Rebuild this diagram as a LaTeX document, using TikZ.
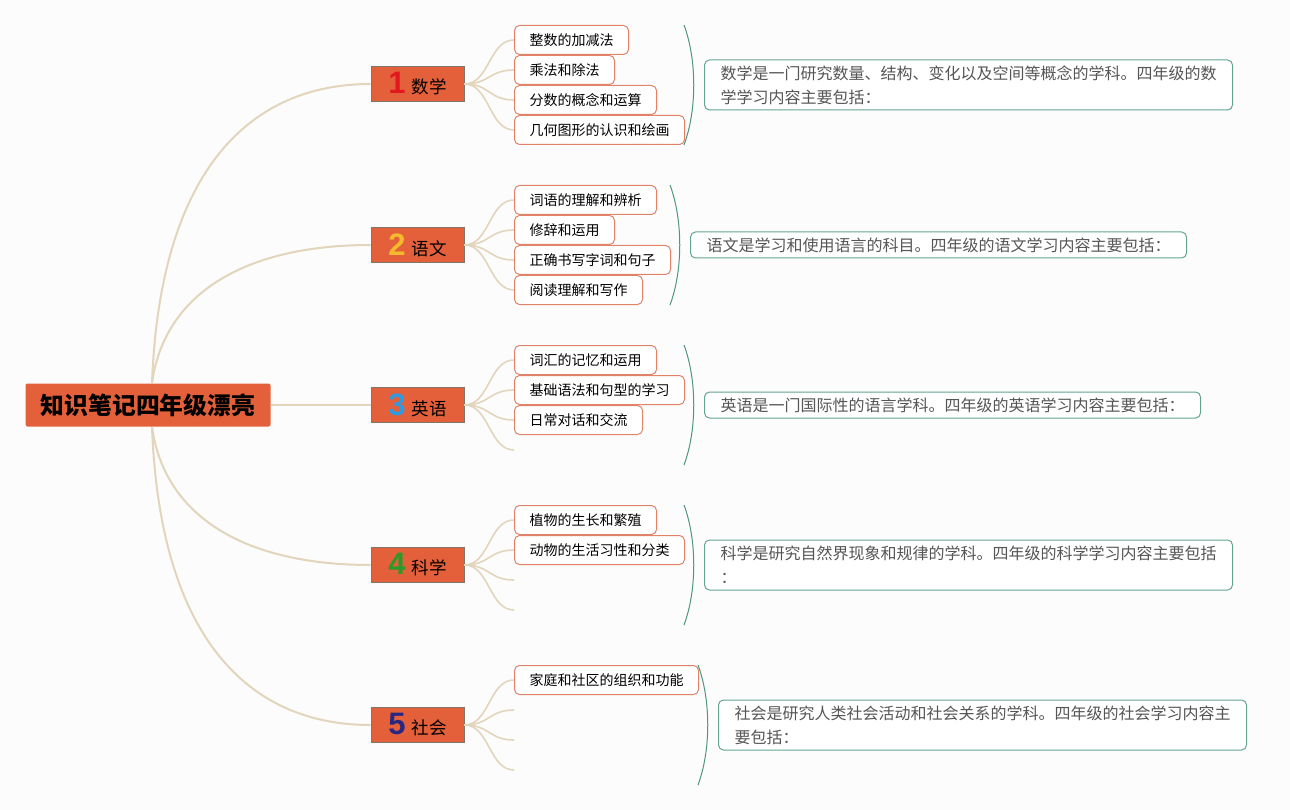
\documentclass[tikz,border=0pt]{standalone}
\usepackage{fontspec}
\usetikzlibrary{calc}
\setmainfont{Noto Sans CJK SC}
\newfontfamily\numfont{Liberation Sans}
\definecolor{bgc}{RGB}{252,252,252}
\definecolor{orangec}{RGB}{228,96,58}
\definecolor{bordc}{RGB}{125,120,105}
\definecolor{linkc}{RGB}{226,213,188}
\definecolor{leafc}{RGB}{226,130,105}
\definecolor{bracec}{RGB}{80,150,125}
\definecolor{notec}{RGB}{100,165,145}
\definecolor{notetext}{RGB}{85,85,85}
\definecolor{n1}{RGB}{225,25,30}
\definecolor{n2}{RGB}{245,185,45}
\definecolor{n3}{RGB}{45,155,225}
\definecolor{n4}{RGB}{40,155,40}
\definecolor{n5}{RGB}{40,40,130}
\begin{document}
\begin{tikzpicture}[x=1pt,y=-1pt,
  rootbox/.style={fill=orangec,rounded corners=2pt,minimum width=245pt,minimum height=43pt,inner sep=0pt,font=\fontsize{23.8}{26}\selectfont\bfseries},
  branchbox/.style={fill=orangec,draw=bordc,line width=1pt,minimum width=93pt,minimum height=35pt,inner sep=0pt,font=\fontsize{17.5}{20}\selectfont},
  leafbox/.style={draw=leafc,fill=white,rounded corners=5pt,line width=1pt,minimum height=29pt,inner xsep=15pt,inner ysep=0pt,anchor=west,font=\fontsize{14}{16}\selectfont},
  notebox/.style={draw=notec,fill=white,rounded corners=5pt,line width=1pt,inner xsep=16pt,inner ysep=0pt,anchor=west,align=left,text=notetext,font=\fontsize{16}{24}\selectfont},
  mainlink/.style={draw=linkc,line width=2pt},
  leaflink/.style={draw=linkc,line width=1.6pt},
  bracearc/.style={draw=bracec,line width=1pt}
]
\fill[bgc] (0,0) rectangle (1290,810);
\useasboundingbox (0,0) rectangle (1290,810);

% root
\node[rootbox] (root) at (148,405) {知识笔记四年级漂亮};
\coordinate (rtop) at (152,383);
\coordinate (rbot) at (152,427);

% branches
\newcommand{\num}[2]{{\numfont\bfseries\fontsize{31}{31}\selectfont\color{#1}#2}\hspace{6pt}}
\node[branchbox] (b1) at (417.5,84) {\num{n1}{1}数学};
\node[branchbox] (b2) at (417.5,245) {\num{n2}{2}语文};
\node[branchbox] (b3) at (417.5,405) {\num{n3}{3}英语};
\node[branchbox] (b4) at (417.5,565) {\num{n4}{4}科学};
\node[branchbox] (b5) at (417.5,725) {\num{n5}{5}社会};

% root links
\draw[mainlink] (rtop) .. controls (160,170) and (250,84) .. (b1.west);
\draw[mainlink] (rtop) .. controls (165,290) and (250,245) .. (b2.west);
\draw[mainlink] (root.east) -- (b3.west);
\draw[mainlink] (rbot) .. controls (165,520) and (250,565) .. (b4.west);
\draw[mainlink] (rbot) .. controls (160,640) and (250,725) .. (b5.west);

% leaves branch 1
\node[leafbox] (l11) at (514,40) {整数的加减法};
\node[leafbox] (l12) at (514,70) {乘法和除法};
\node[leafbox] (l13) at (514,100) {分数的概念和运算};
\node[leafbox] (l14) at (514,130) {几何图形的认识和绘画};
% branch 2
\node[leafbox] (l21) at (514,200) {词语的理解和辨析};
\node[leafbox] (l22) at (514,230) {修辞和运用};
\node[leafbox] (l23) at (514,260) {正确书写字词和句子};
\node[leafbox] (l24) at (514,290) {阅读理解和写作};
% branch 3
\node[leafbox] (l31) at (514,360) {词汇的记忆和运用};
\node[leafbox] (l32) at (514,390) {基础语法和句型的学习};
\node[leafbox] (l33) at (514,420) {日常对话和交流};
\coordinate (l34) at (514,450);
% branch 4
\node[leafbox] (l41) at (514,520) {植物的生长和繁殖};
\node[leafbox] (l42) at (514,550) {动物的生活习性和分类};
\coordinate (l43) at (514,580);
\coordinate (l44) at (514,610);
% branch 5
\node[leafbox] (l51) at (514,680) {家庭和社区的组织和功能};
\coordinate (l52) at (514,710);
\coordinate (l53) at (514,740);
\coordinate (l54) at (514,770);

% leaf links
\foreach \b/\la/\lb/\lc/\ld in {b1/l11/l12/l13/l14, b2/l21/l22/l23/l24}{
  \foreach \l in {\la,\lb,\lc,\ld}{
    \draw[leaflink] (\b.east) .. controls ($(\b.east)+(25,0)$) and ($(\l.west)+(-25,0)$) .. (\l.west);
  }
}
\foreach \l in {l31,l32,l33}{
  \draw[leaflink] (b3.east) .. controls ($(b3.east)+(25,0)$) and ($(\l.west)+(-25,0)$) .. (\l.west);
}
\draw[leaflink] (b3.east) .. controls ($(b3.east)+(25,0)$) and ($(l34)+(-25,0)$) .. (l34);
\foreach \l in {l41,l42}{
  \draw[leaflink] (b4.east) .. controls ($(b4.east)+(25,0)$) and ($(\l.west)+(-25,0)$) .. (\l.west);
}
\foreach \l in {l43,l44}{
  \draw[leaflink] (b4.east) .. controls ($(b4.east)+(25,0)$) and ($(\l)+(-25,0)$) .. (\l);
}
\draw[leaflink] (b5.east) .. controls ($(b5.east)+(25,0)$) and ($(l51.west)+(-25,0)$) .. (l51.west);
\foreach \l in {l52,l53,l54}{
  \draw[leaflink] (b5.east) .. controls ($(b5.east)+(25,0)$) and ($(\l)+(-25,0)$) .. (\l);
}

% braces
\coordinate (t1) at (684,25);  \coordinate (e1) at (684,145);
\coordinate (t2) at (670,185); \coordinate (e2) at (670,305);
\coordinate (t3) at (684,345); \coordinate (e3) at (684,465);
\coordinate (t4) at (684,505); \coordinate (e4) at (684,625);
\coordinate (t5) at (698,665); \coordinate (e5) at (698,785);
\foreach \i in {1,...,5}{
  \draw[bracearc] (t\i) .. controls ($(t\i)+(13,35)$) and ($(e\i)+(13,-35)$) .. (e\i);
}

% notes
\node[notebox,minimum width=527pt,minimum height=50pt] (m1) at (704,85) {数学是一门研究数量、结构、变化以及空间等概念的学科。四年级的数\\学学习内容主要包括：};
\node[notebox,minimum width=495pt,minimum height=26pt] (m2) at (690,245) {语文是学习和使用语言的科目。四年级的语文学习内容主要包括：};
\node[notebox,minimum width=495pt,minimum height=26pt] (m3) at (704,405) {英语是一门国际性的语言学科。四年级的英语学习内容主要包括：};
\node[notebox,minimum width=527pt,minimum height=50pt] (m4) at (704,565) {科学是研究自然界现象和规律的学科。四年级的科学学习内容主要包括\\：};
\node[notebox,minimum width=527pt,minimum height=50pt] (m5) at (718,725) {社会是研究人类社会活动和社会关系的学科。四年级的社会学习内容主\\要包括：};
\end{tikzpicture}
\end{document}
